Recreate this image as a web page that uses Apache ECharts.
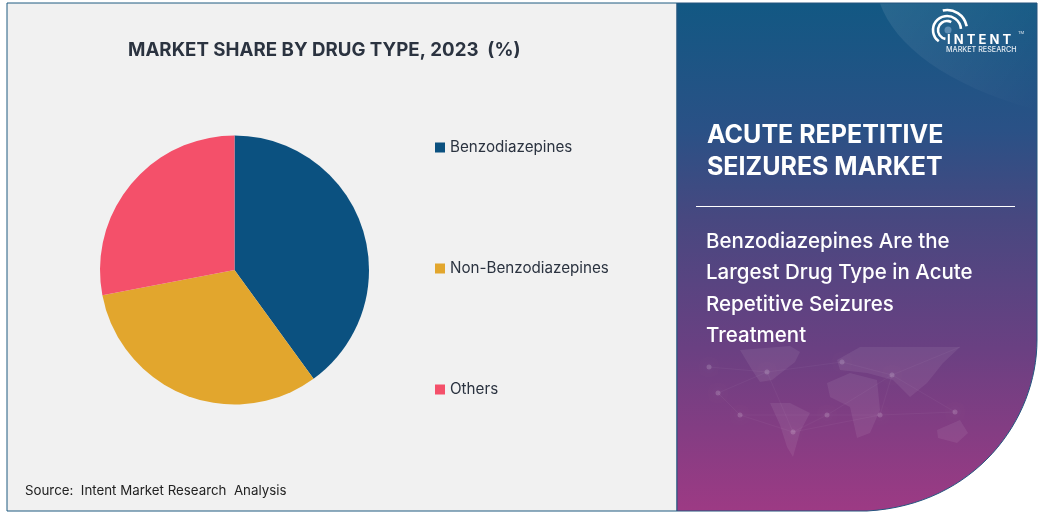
<!DOCTYPE html>
<html>
<head>
<meta charset="utf-8">
<title>Market share by drug type</title>
<script src="https://cdn.jsdelivr.net/npm/echarts@6/dist/echarts.min.js"></script>
<style>
html, body { margin: 0; padding: 0; background: #fff; }
#chart { width: 1043px; height: 513px; }
</style>
</head>
<body>
<div id="chart"></div>
<script>
const categories = ['Benzodiazepines', 'Non-Benzodiazepines', 'Others']
const shares = [40, 32, 28]
const sliceColors = ['#0b5180', '#e2a62d', '#f4506a']
const titleText = 'MARKET SHARE BY DRUG TYPE, 2023  (%)'
const sourceText = 'Source:  Intent Market Research  Analysis'
const headingLines = ['ACUTE REPETITIVE', 'SEIZURES MARKET']
const subLines = ['Benzodiazepines Are the', 'Largest Drug Type in Acute', 'Repetitive Seizures', 'Treatment']

const fontName = 'Inter, "Open Sans", sans-serif'
const chart = echarts.init(document.getElementById('chart'), null, { renderer: 'canvas' })

// 注册自定义路径形状
function pathShape(name, d) {
    echarts.graphic.registerShape(name, echarts.graphic.extendPath(d, {}))
    return name
}

// 背景面板
const panels = [
    {
        type: 'rect', z: 0,
        shape: { x: 7, y: 3, width: 670, height: 508 },
        style: { fill: '#f1f1f1', stroke: '#1f5a80', lineWidth: 1 }
    },
    {
        type: pathShape('sidePanel', 'M677 3 L1037 3 L1037 340 C1037 420 975 505 867 511 L677 511 Z'), z: 1,
        style: {
            stroke: '#24557f',
            lineWidth: 1,
            fill: new echarts.graphic.LinearGradient(0, 0, 0, 1, [
                { offset: 0, color: '#125883' },
                { offset: 0.25, color: '#2a5186' },
                { offset: 0.42, color: '#474880' },
                { offset: 0.68, color: '#6a4082' },
                { offset: 1, color: '#9d3a84' }
            ])
        }
    },
    {
        // 右上角浅色弧
        type: pathShape('cornerArc', 'M880 3.5 C895 45 945 85 1036.5 110 L1036.5 3.5 Z'), z: 2,
        style: {
            fill: new echarts.graphic.LinearGradient(0, 0, 1, 1, [
                { offset: 0, color: 'rgba(255,255,255,0.09)' },
                { offset: 1, color: 'rgba(255,255,255,0)' }
            ])
        }
    }
]

// 世界地图 (装饰)
const mapShapes = [
    [[740, 350], [790, 346], [800, 352], [795, 362], [772, 380], [760, 382], [752, 370]],
    [[770, 403], [790, 403], [810, 413], [800, 432], [793, 457], [787, 447], [780, 425]],
    [[827, 383], [850, 373], [877, 380], [880, 410], [870, 433], [857, 438], [850, 407], [830, 397]],
    [[837, 360], [860, 347], [960, 347], [943, 363], [927, 383], [910, 397], [893, 380], [867, 373], [840, 370]],
    [[937, 430], [960, 420], [968, 433], [957, 443], [938, 438]]
]
const mapDots = [[709, 367], [718, 393], [740, 415], [767, 372], [827, 415], [793, 432], [892, 375], [955, 412], [880, 415], [842, 362]]
const mapLinks = [
    [[709, 367], [767, 372], [842, 362], [892, 375], [955, 412]],
    [[718, 393], [767, 372], [793, 432], [827, 415], [880, 415], [892, 375]],
    [[740, 415], [793, 432], [880, 415], [955, 412]],
    [[718, 393], [740, 415], [827, 415], [892, 375], [960, 347]]
]
const mapGraphics = mapShapes.map(points => ({
    type: 'polygon', z: 3,
    shape: { points },
    style: { fill: 'rgba(255,255,255,0.07)' }
})).concat(mapLinks.map(points => ({
    type: 'polyline', z: 3,
    shape: { points },
    style: { stroke: 'rgba(255,255,255,0.04)', lineWidth: 1, fill: 'none' }
})), mapDots.map(p => ({
    type: 'circle', z: 3,
    shape: { cx: p[0], cy: p[1], r: 2.5 },
    style: { fill: 'rgba(255,255,255,0.16)', shadowBlur: 6, shadowColor: 'rgba(255,255,255,0.4)' }
})))

// logo
const logoArcs = [
    { r: 9, a: 1.75, b: 5.2 },
    { r: 14, a: 2.2, b: 6.2 },
    { r: 20, a: 4.5, b: 6.1 }
]
const logoGraphics = logoArcs.map(k => ({
    type: 'arc', z: 5,
    shape: { cx: 947, cy: 30, r: k.r, startAngle: k.a, endAngle: k.b },
    style: { stroke: '#fff', lineWidth: 2.6, fill: 'none' }
})).concat({
    type: 'circle', z: 5,
    shape: { cx: 948, cy: 30, r: 3.5 },
    style: { fill: '#5d8db3' }
})

const texts = [
    { type: 'text', z: 5, x: 128, y: 50, style: { text: titleText, font: '700 18.7px ' + fontName, fill: '#2b3340', verticalAlign: 'middle' } },
    { type: 'text', z: 5, x: 25, y: 491, style: { text: sourceText, font: '400 13.3px ' + fontName, fill: '#222', verticalAlign: 'middle' } },
    { type: 'text', z: 5, x: 947, y: 40, style: { text: 'I N T E N T', font: '700 13px ' + fontName, fill: '#fff', verticalAlign: 'middle' } },
    { type: 'text', z: 5, x: 1018, y: 33, style: { text: 'TM', font: '400 4px ' + fontName, fill: '#dfe8ef', verticalAlign: 'middle' } },
    { type: 'text', z: 5, x: 946, y: 50, style: { text: 'MARKET RESEARCH', font: '500 7.2px ' + fontName, fill: '#e6edf3', verticalAlign: 'middle' } },
    { type: 'line', z: 5, shape: { x1: 696, y1: 206.5, x2: 1015, y2: 206.5 }, style: { stroke: '#fff', lineWidth: 1 } }
]
headingLines.forEach((t, i) => {
    texts.push({ type: 'text', z: 5, x: 707, y: 135 + i * 32, style: { text: t, font: '700 25px ' + fontName, fill: '#fff', verticalAlign: 'middle' } })
})
subLines.forEach((t, i) => {
    texts.push({ type: 'text', z: 5, x: 706, y: 242 + i * 31.2, style: { text: t, font: '500 20.5px ' + fontName, fill: '#fff', verticalAlign: 'middle' } })
})

chart.setOption({
    animation: false,
    textStyle: { fontFamily: fontName },
    legend: {
        orient: 'vertical',
        left: 430,
        top: 135,
        itemWidth: 10,
        itemHeight: 10,
        itemGap: 106,
        icon: 'rect',
        data: categories,
        textStyle: { fontSize: 15.2, color: '#2b3340' }
    },
    series: [{
        type: 'pie',
        center: [234.5, 270],
        radius: [0, 134.5],
        startAngle: 90,
        clockwise: true,
        label: { show: false },
        labelLine: { show: false },
        data: categories.map((name, i) => ({
            name,
            value: shares[i],
            itemStyle: { color: sliceColors[i] }
        }))
    }],
    graphic: { elements: panels.concat(mapGraphics, logoGraphics, texts) }
})
</script>
</body>
</html>
